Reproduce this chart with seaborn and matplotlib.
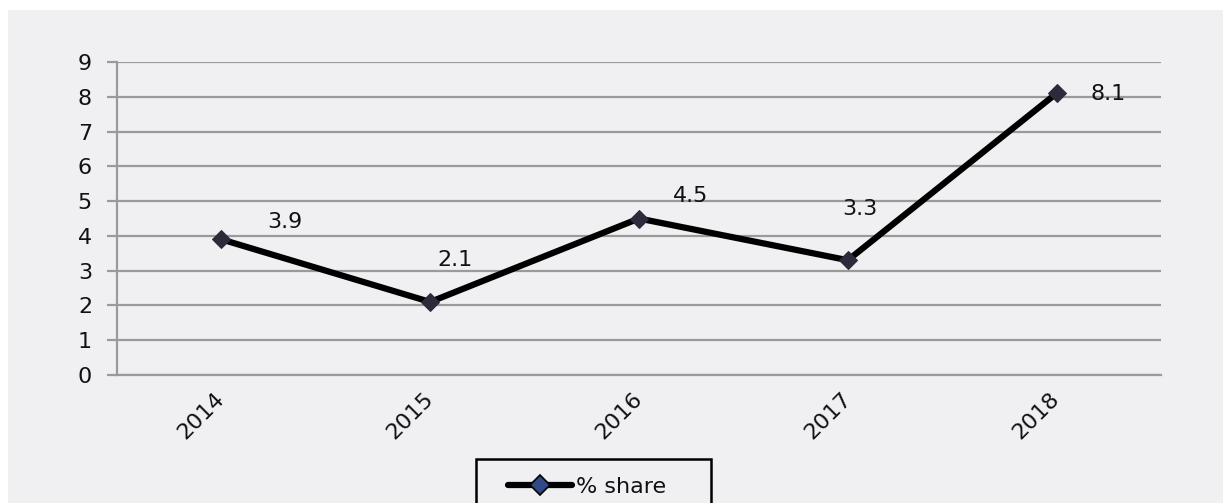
import numpy as np
import pandas as pd
import seaborn as sns
import matplotlib.pyplot as plt
from matplotlib.lines import Line2D
from matplotlib.patches import Rectangle

years = ["2014", "2015", "2016", "2017", "2018"]
share = [3.9, 2.1, 4.5, 3.3, 8.1]
series_name = "% share"

# manual label offsets (pixels), like Excel's hand-placed data labels
label_offsets = [(63, 17), (25, 42), (52, 22), (12, 51), (52, -1)]

sns.set_style("white")
plt.rcParams["font.family"] = ["DejaVu Sans"]
plt.rcParams["text.color"] = "#111111"
plt.rcParams["xtick.labelcolor"] = "#111111"
plt.rcParams["ytick.labelcolor"] = "#111111"

df = pd.DataFrame({"pos": np.arange(len(years)), "share": share})

W, H = 1223, 503
fig = plt.figure(figsize=(W / 100, H / 100), dpi=100)
fig.patches.append(Rectangle((8 / W, 0), 1, 1 - 10 / H, transform=fig.transFigure,
                             facecolor="#f0f0f2", edgecolor="none", zorder=-10))
ax = fig.add_axes([117 / W, 1 - 375 / H, 1044 / W, 313 / H])
ax.set_facecolor("none")

sns.lineplot(data=df, x="pos", y="share", ax=ax, color="black", linewidth=4.5,
             marker="D", markersize=9, markerfacecolor="#2b2b3b",
             markeredgecolor="#2b2b3b", zorder=3)

for i, v in enumerate(share):
    dx, dy = label_offsets[i]
    ax.annotate(f"{v}", (i, v), xytext=(dx, dy), textcoords="offset pixels",
                ha="center", va="center", fontsize=16, color="#111111")

ax.set_xlim(-0.5, len(years) - 0.5)
ax.set_ylim(0, 9)
ax.set_yticks(range(10))
ax.yaxis.grid(True, color="#9a9a9a", linewidth=1.6)
ax.set_xticks(range(len(years)))
ax.set_xticklabels(years, rotation=45, ha="right", va="center",
                   rotation_mode="anchor", fontsize=16)
ax.set_xticks(np.arange(-0.5, len(years)), minor=True)
ax.tick_params(axis="x", which="major", length=0, pad=15)
ax.tick_params(axis="x", which="minor", length=5, width=1.6, color="#9a9a9a", direction="out")
ax.tick_params(axis="y", length=7, width=1.6, color="#9a9a9a", labelsize=16, pad=11)
ax.tick_params(axis="y", left=True)
ax.set_xlabel("")
ax.set_ylabel("")
for side in ["top", "right"]:
    ax.spines[side].set_visible(False)
for side in ["left", "bottom"]:
    ax.spines[side].set_color("#9a9a9a")
    ax.spines[side].set_linewidth(1.6)

# legend box (Excel style, wider than its content)
fig.patches.append(Rectangle((476 / W, -0.05), 235 / W, 0.05 + (H - 459) / H,
                             transform=fig.transFigure, facecolor="#f0f0f2",
                             edgecolor="black", linewidth=1.8, zorder=5))
handle = Line2D([], [], color="black", linewidth=4.5, marker="D", markersize=10,
                markerfacecolor="#2f4a85", markeredgecolor="black", markeredgewidth=1.2)
leg = fig.legend([handle], [series_name], loc="center left",
                 bbox_to_anchor=(508 / W, 1 - 487 / H), borderaxespad=0, borderpad=0,
                 frameon=False, fontsize=16, handlelength=2.9, handletextpad=0.15)
leg.set_zorder(6)

fig.savefig("out.png", dpi=100)
